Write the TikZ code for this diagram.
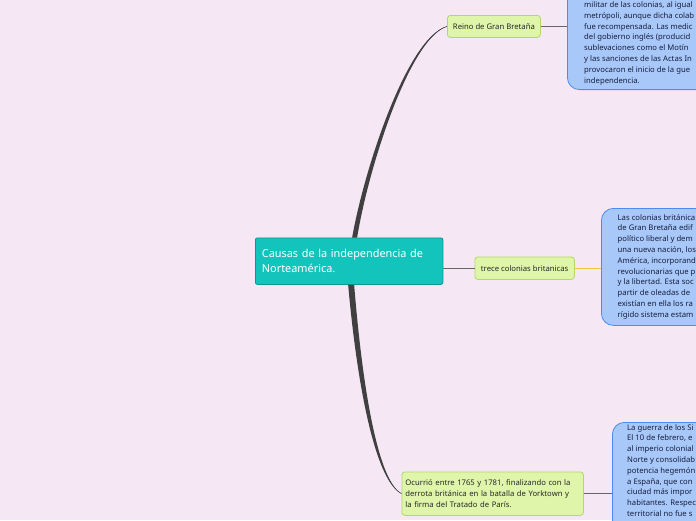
\documentclass[tikz,border=0pt]{standalone}
\usepackage{fontspec}
\setmainfont{Noto Sans}
\definecolor{bg}{RGB}{246,231,245}
\definecolor{teal}{RGB}{19,196,189}
\definecolor{tealline}{RGB}{14,150,144}
\definecolor{greenfill}{RGB}{222,245,170}
\definecolor{greenline}{RGB}{178,216,104}
\definecolor{bluefill}{RGB}{168,200,249}
\definecolor{blueline}{RGB}{74,140,240}
\definecolor{branch}{RGB}{64,64,64}
\definecolor{yel}{RGB}{242,200,60}
\definecolor{txt}{RGB}{40,40,40}
\definecolor{bluetxt}{RGB}{22,30,60}
\begin{document}
\begin{tikzpicture}[x=1pt,y=-1pt,
  small/.style={font=\fontsize{7.7}{10.8}\selectfont},
  topic/.style={draw=greenline, fill=greenfill, rounded corners=3pt, line width=0.8pt,
    inner ysep=0pt, text=txt, small, anchor=north west},
  bluebox/.style={draw=blueline, fill=bluefill, rounded corners=12pt, line width=0.8pt},
  bluetext/.style={inner sep=0pt, anchor=north west, align=left, text=bluetxt, small},
  link/.style={draw=branch!80, line width=0.8pt}]
\useasboundingbox (0,0) rectangle (696,520);
\clip (0,0) rectangle (696,520);
\fill[bg] (0,0) rectangle (696,520);

% central node
\node[draw=tealline, fill=teal, rounded corners=2pt, line width=0.8pt, anchor=north west,
  minimum width=187.5pt, minimum height=46.5pt, text width=174.5pt, inner xsep=6.5pt,
  align=left, text=white, font=\fontsize{10.9}{15.5}\selectfont] (c) at (255,237.5)
  {Causas de la independencia de\\Norteamérica.};

% topics
\node[topic, minimum width=93pt, minimum height=22pt] (r) at (447,15) {Reino de Gran Bretaña};
\node[topic, minimum width=99.5pt, minimum height=22.5pt] (tr) at (474.5,256.5) {trece colonias britanicas};
\node[topic, minimum width=181.5pt, minimum height=43.5pt, text width=174.5pt, inner xsep=3.5pt,
  align=left] (o) at (401.5,471.5)
  {Ocurrió entre 1765 y 1781, finalizando con la\\derrota británica en la batalla de Yorktown y\\la firma del Tratado de París.};

% blue boxes
\node[bluebox, anchor=south west, minimum width=200pt, minimum height=140pt] (b1) at (567,90) {};
\node[bluetext] (t1) at (584,1.5) {militar de las colonias, al igual\\metrópoli, aunque dicha colab\\fue recompensada. Las medic\\del gobierno inglés (producid\\sublevaciones como el Motín\\y las sanciones de las Actas In\\provocaron el inicio de la gue\\independencia.};

\node[bluebox, anchor=north west, minimum width=160pt, minimum height=117pt] (b2) at (601,208) {};
\node[bluetext] (t2) at (617.5,214) {Las colonias británica\\de Gran Bretaña edif\\político liberal y dem\\una nueva nación, los\\América, incorporand\\revolucionarias que p\\y la libertad. Esta soc\\partir de oleadas de\\existían en ella los ra\\rígido sistema estam};

\node[bluebox, anchor=north west, minimum width=160pt, minimum height=140pt] (b3) at (612,422) {};
\node[bluetext] (t3) at (627,424) {La guerra de los Si\\El 10 de febrero, e\\al imperio colonial\\Norte y consolidab\\potencia hegemón\\a España, que con\\ciudad más impor\\habitantes. Respec\\territorial no fue s};

% tapered branches
\fill[branch] ([xshift=3pt]c.north) .. controls (364,170) and (407,37) .. (r.west)
  .. controls (409,39) and (368,170) .. ([xshift=8pt]c.north) -- cycle;
\draw[branch, line width=0.5pt] ([xshift=5.5pt]c.north) .. controls (366,170) and (408,38) .. (r.west);
\fill[branch] ([xshift=-1pt]c.south) .. controls (357,384) and (375,481) .. (o.west)
  .. controls (377,480) and (362,382) .. ([xshift=5pt]c.south) -- cycle;
\draw[branch, line width=0.5pt] ([xshift=2pt]c.south) .. controls (359.5,383) and (376,480.5) .. (o.west);

% straight connectors
\draw[link] (c.east |- tr.west) -- (tr.west);
\draw[link] (r.east) -- (r.east -| b1.west);
\draw[yel, line width=0.8pt] (tr.east) -- (tr.east -| b2.west);
\draw[link] (o.east) -- (o.east -| b3.west);
\end{tikzpicture}
\end{document}
